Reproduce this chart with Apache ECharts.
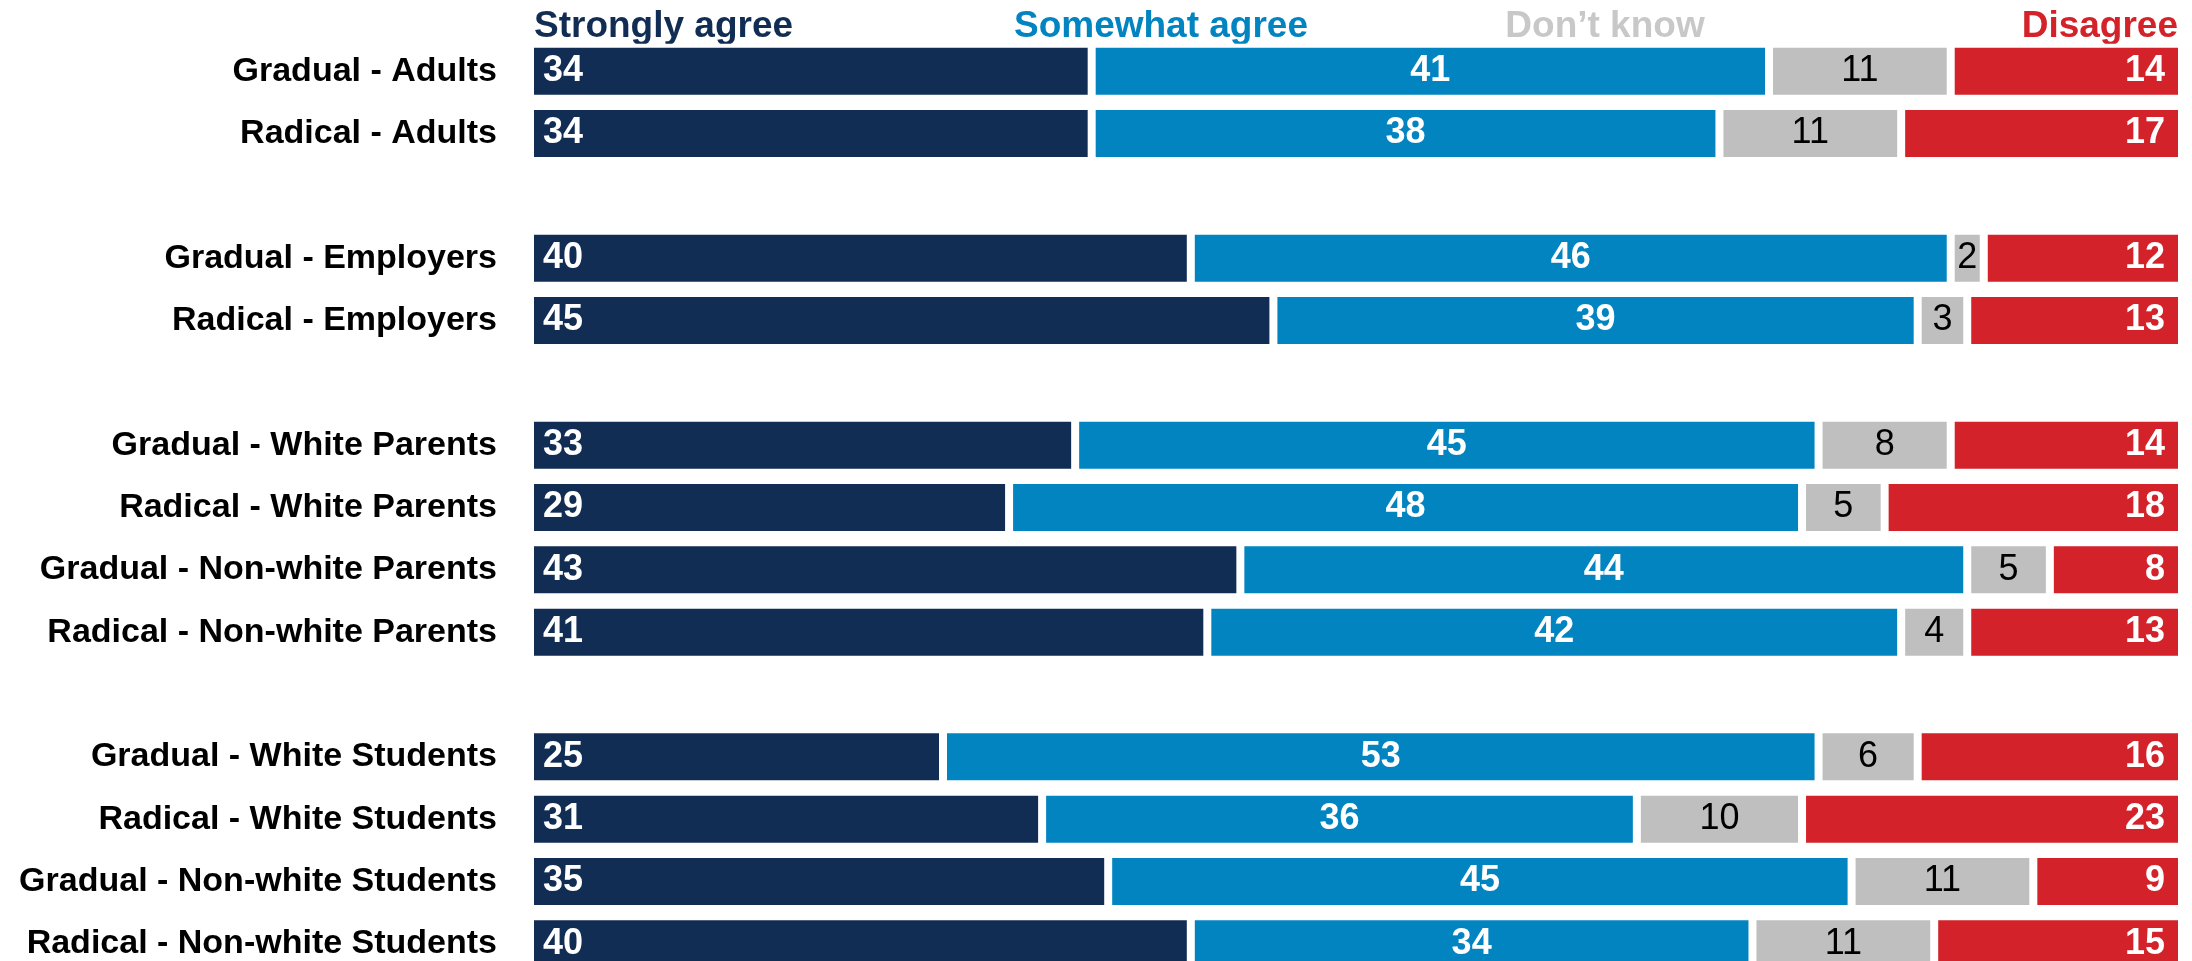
<!DOCTYPE html>
<html>
<head>
<meta charset="utf-8">
<script src="https://cdn.jsdelivr.net/npm/echarts@6/dist/echarts.min.js"></script>
<style>
  html, body { margin: 0; padding: 0; background: #fff; overflow: hidden; }
  /* last row is cut by the bottom edge of the window, like the original */
  #chart { width: 2192px; height: 975px; }
</style>
</head>
<body>
<div id="chart"></div>
<script>
  // rows top to bottom, '' = spacer row between groups
  var categories = [
    'Gradual - Adults', 'Radical - Adults', '',
    'Gradual - Employers', 'Radical - Employers', '',
    'Gradual - White Parents', 'Radical - White Parents',
    'Gradual - Non-white Parents', 'Radical - Non-white Parents', '',
    'Gradual - White Students', 'Radical - White Students',
    'Gradual - Non-white Students', 'Radical - Non-white Students'
  ];
  var stronglyAgree = [34, 34, '-', 40, 45, '-', 33, 29, 43, 41, '-', 25, 31, 35, 40];
  var somewhatAgree = [41, 38, '-', 46, 39, '-', 45, 48, 44, 42, '-', 53, 36, 45, 34];
  var dontKnow      = [11, 11, '-', 2, 3, '-', 8, 5, 5, 4, '-', 6, 10, 11, 11];
  var disagree      = [14, 17, '-', 12, 13, '-', 14, 18, 8, 13, '-', 16, 23, 9, 15];
  var seriesNames = ['Strongly agree', 'Somewhat agree', 'Don\u2019t know', 'Disagree'];

  var FONT = '"Liberation Sans", Arial, sans-serif';
  var colors = ['#122d53', '#0284c0', '#bfbfbf', '#d32229'];

  var myChart = echarts.init(document.getElementById('chart'));

  function seg(name, data, color, label) {
    return {
      type: 'bar',
      name: name,
      stack: 'total',
      data: data,
      barWidth: 55,
      itemStyle: {
        color: color,
        borderColor: '#fff',
        borderWidth: 4   // white gap between segments
      },
      label: Object.assign({
        show: true,
        fontFamily: FONT,
        fontSize: 36,
        fontWeight: 'bold',
        color: '#fff'
      }, label),
      emphasis: { disabled: true }
    };
  }

  var headerFont = 'bold 37px ' + FONT;

  var option = {
    animation: false,
    grid: {
      left: 530,
      right: 10,
      top: 40,
      bottom: 0,
      containLabel: false
    },
    xAxis: {
      type: 'value',
      min: 0,
      max: 100,
      show: false
    },
    yAxis: {
      type: 'category',
      inverse: true,
      data: categories,
      axisLine: { show: false },
      axisTick: { show: false },
      axisLabel: {
        margin: 33,
        fontFamily: FONT,
        fontSize: 34,
        fontWeight: 'bold',
        color: '#000'
      }
    },
    series: [
      seg(seriesNames[0], stronglyAgree, colors[0], { position: 'insideLeft', distance: 13 }),
      seg(seriesNames[1], somewhatAgree, colors[1], { position: 'inside' }),
      seg(seriesNames[2], dontKnow, colors[2], { position: 'inside', color: '#000', fontWeight: 'normal' }),
      seg(seriesNames[3], disagree, colors[3], { position: 'insideRight', distance: 17 })
    ],
    // column headers
    graphic: [
      { type: 'text', x: 534, y: 27, style: { text: seriesNames[0], fill: colors[0], font: headerFont, align: 'left', verticalAlign: 'middle' } },
      { type: 'text', x: 1161, y: 27, style: { text: seriesNames[1], fill: colors[1], font: headerFont, align: 'center', verticalAlign: 'middle' } },
      { type: 'text', x: 1605, y: 27, style: { text: seriesNames[2], fill: '#c8c8c8', font: headerFont, align: 'center', verticalAlign: 'middle' } },
      { type: 'text', x: 2178, y: 27, style: { text: seriesNames[3], fill: colors[3], font: headerFont, align: 'right', verticalAlign: 'middle' } }
    ]
  };

  myChart.setOption(option);
</script>
</body>
</html>
